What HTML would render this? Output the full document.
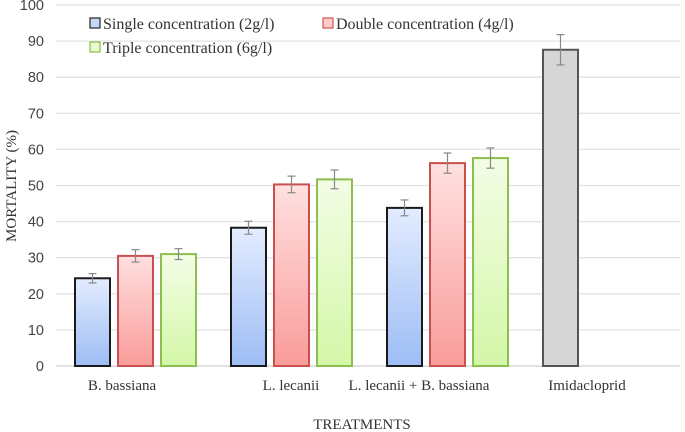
<!DOCTYPE html>
<html><head><meta charset="utf-8"><style>
body{margin:0;background:#fff}
svg{display:block}
text{font-family:"Liberation Serif",serif;fill:#333}
.tick{font-family:"Liberation Sans",sans-serif;font-size:14.5px;fill:#444}
</style></head><body>
<svg id="chart" width="685" height="432" viewBox="0 0 685 432">
<defs>
<linearGradient id="gb" x1="0" y1="0" x2="0" y2="1"><stop offset="0" stop-color="#e3ecff"/><stop offset="1" stop-color="#9dbdf5"/></linearGradient>
<linearGradient id="gr" x1="0" y1="0" x2="0" y2="1"><stop offset="0" stop-color="#ffe0e0"/><stop offset="1" stop-color="#f99c9a"/></linearGradient>
<linearGradient id="gg" x1="0" y1="0" x2="0" y2="1"><stop offset="0" stop-color="#f3fde6"/><stop offset="1" stop-color="#d4f7a8"/></linearGradient>
</defs>
<g id="grid"></g><g id="bars"></g><g id="labels"></g>
<text transform="translate(16,186) rotate(-90)" text-anchor="middle" font-size="15">MORTALITY (%)</text>
<text x="362" y="429" text-anchor="middle" font-size="15">TREATMENTS</text>
<g font-size="16">
<rect x="90" y="18" width="10" height="10" fill="#c6d8fa" stroke="#222" stroke-width="1.2"/>
<text x="103" y="29">Single concentration (2g/l)</text>
<rect x="323" y="18" width="10" height="10" fill="#fcc" stroke="#c55" stroke-width="1.2"/>
<text x="336" y="29">Double concentration (4g/l)</text>
<rect x="90" y="42" width="10" height="10" fill="#e8fbd0" stroke="#8b4" stroke-width="1.2"/>
<text x="103" y="53">Triple concentration (6g/l)</text>
</g>
</svg>
<script>
const categories=["B. bassiana","L. lecanii","L. lecanii + B. bassiana","Imidacloprid"];
const singleVals=[24.3,38.3,43.8,null];
const doubleVals=[30.5,50.3,56.2,null];
const tripleVals=[31.0,51.7,57.6,null];
const imidVals=[null,null,null,87.6];
const singleErr=[1.3,1.8,2.2,null];
const doubleErr=[1.7,2.3,2.8,null];
const tripleErr=[1.5,2.6,2.8,null];
const imidErr=[null,null,null,4.2];
const yTicks=[0,10,20,30,40,50,60,70,80,90,100];

const NS="http://www.w3.org/2000/svg";
const x0=56,x1=680,yBase=366,yTop=5;
const gw=(x1-x0)/categories.length;
const y=v=>yBase-(v/100)*(yBase-yTop);
const mk=(t,a,p)=>{const e=document.createElementNS(NS,t);for(const k in a)e.setAttribute(k,a[k]);p.appendChild(e);return e;};
const grid=document.getElementById('grid'),bars=document.getElementById('bars'),labels=document.getElementById('labels');
yTicks.forEach(t=>{
  const l=mk('line',{x1:x0,x2:x1,y1:y(t),y2:y(t),stroke:t===0?'#d0d0d0':'#e2e2e2','stroke-width':1.3},grid);
  
  
  const tx=mk('text',{x:44,y:y(t)+5,'text-anchor':'end',class:'tick'},grid);
  tx.textContent=t;
  
  
});
const series=[
 {v:singleVals,e:singleErr,slot:0,fill:'url(#gb)',stroke:'#1a1a1a',n:'single'},
 {v:doubleVals,e:doubleErr,slot:1,fill:'url(#gr)',stroke:'#c9504f',n:'double'},
 {v:tripleVals,e:tripleErr,slot:2,fill:'url(#gg)',stroke:'#8cbf4e',n:'triple'},
 {v:imidVals,e:imidErr,slot:0,fill:'#d6d6d6',stroke:'#555',n:'imidacloprid'}];
const bw=35,pitch=43;
series.forEach(s=>{
  s.v.forEach((v,i)=>{
    if(v==null)return;
    const bx=x0+i*gw+19+s.slot*pitch;
    const r=mk('rect',{x:bx,y:y(v),width:bw,height:yBase-y(v),fill:s.fill,stroke:s.stroke,'stroke-width':2},bars);
    
    
    const err=s.e[i],cx=bx+bw/2;
    const g=mk('g',{stroke:'#888','stroke-width':1.2},bars);
    
    
    mk('line',{x1:cx,x2:cx,y1:y(v+err),y2:y(v-err)},g);
    mk('line',{x1:cx-4,x2:cx+4,y1:y(v+err),y2:y(v+err)},g);
    mk('line',{x1:cx-4,x2:cx+4,y1:y(v-err),y2:y(v-err)},g);
  });
});
const labelOff=[-12,1,-27,-15];
categories.forEach((c,i)=>{
  const t=mk('text',{x:x0+i*gw+gw/2+labelOff[i],y:390,'text-anchor':'middle','font-size':15},labels);
  t.textContent=c;
  
  
});
</script>
</body></html>
